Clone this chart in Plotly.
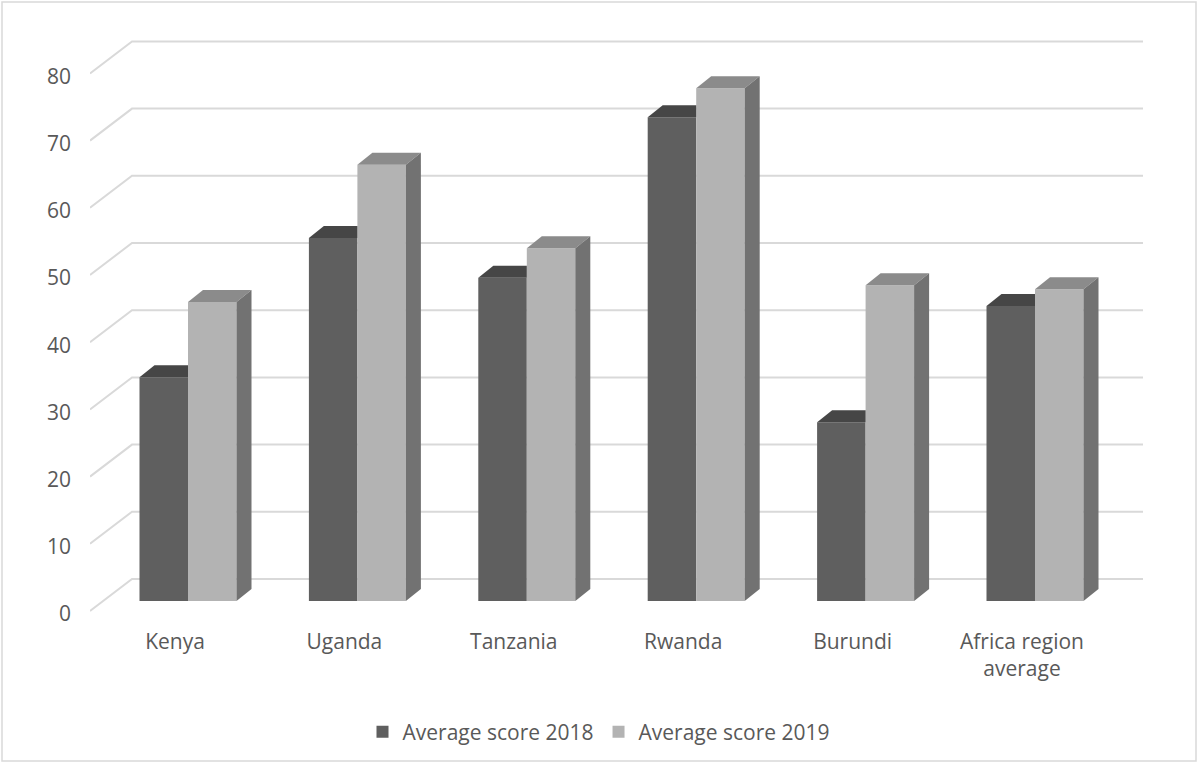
import plotly.graph_objects as go

# ---- data ----
categories = ["Kenya", "Uganda", "Tanzania", "Rwanda", "Burundi", "Africa region<br>average"]
score_2018 = [33.3, 54.0, 48.1, 72.0, 26.6, 43.9]
score_2019 = [44.5, 64.9, 52.5, 76.3, 47.0, 46.4]
series_names = ["Average score 2018", "Average score 2019"]
y_ticks = [0, 10, 20, 30, 40, 50, 60, 70, 80]

# ---- geometry / style ----
W, H = 1198, 764
L, R, T, B = 90, 1150, 30, 620
X0PX, PXX = 188.0, 169.4      # pixel of category 0, px per category
Y0PX, PXY = 601.0, 6.72       # pixel of value 0 on bar front plane, px per unit

def px_x(p):
    return (p - X0PX) / PXX

bar_w = 48.5 / PXX
dd_x = 15 / PXX        # bar depth
dd_y = 12 / PXY
front_dx, front_dy = -13 / PXX, -10 / PXY   # front plane relative to bar front
back_dy = 22 / PXY                          # back wall relative to bar front
label_dy = -3 / PXY
grid_front_x = px_x(L)
grid_back_x = px_x(132)
grid_end_x = px_x(1143)

C_DARK, C_DARK_TOP = "#5f5f5f", "#464646"
C_LIGHT, C_LIGHT_TOP, C_LIGHT_SIDE = "#b3b3b3", "#8b8b8b", "#727272"
GRID = "#d9d9d9"
TXT = "#595959"
FONT = "Open Sans"
FS = 21

fig = go.Figure()

xs_dark = [i - bar_w / 2 for i in range(len(categories))]
xs_light = [i + bar_w / 2 for i in range(len(categories))]

fig.add_trace(go.Bar(x=xs_dark, y=score_2018, width=bar_w, name=series_names[0],
                     marker=dict(color=C_DARK, line=dict(width=0))))
fig.add_trace(go.Bar(x=xs_light, y=score_2019, width=bar_w, name=series_names[1],
                     marker=dict(color=C_LIGHT, line=dict(width=0))))

# 3D faces
def poly(xs, ys, color):
    fig.add_trace(go.Scatter(x=xs + [xs[0]], y=ys + [ys[0]], mode="lines", fill="toself",
                             fillcolor=color, line=dict(width=0, color=color),
                             hoverinfo="skip", showlegend=False))

for i in range(len(categories)):
    v1, v2 = score_2018[i], score_2019[i]
    xl = i - bar_w
    # dark top face (clipped by light bar in front)
    poly([xl, i, i, xl + dd_x], [v1, v1, v1 + dd_y, v1 + dd_y], C_DARK_TOP)
    # light top face
    poly([i, i + bar_w, i + bar_w + dd_x, i + dd_x], [v2, v2, v2 + dd_y, v2 + dd_y], C_LIGHT_TOP)
    # light side face
    poly([i + bar_w, i + bar_w, i + bar_w + dd_x, i + bar_w + dd_x],
         [0, v2, v2 + dd_y, dd_y], C_LIGHT_SIDE)

# gridlines (front diagonal + back wall)
shapes = []
for v in y_ticks:
    yf = v + front_dy
    yb = v + back_dy
    shapes.append(dict(type="path", xref="x", yref="y", layer="below",
                       path=f"M{grid_front_x},{yf} L{grid_back_x},{yb} L{grid_end_x},{yb}",
                       line=dict(color=GRID, width=2)))

# outer border
shapes.append(dict(type="rect", xref="paper", yref="paper", layer="below",
                   x0=(2 - L) / (R - L), x1=(1196 - L) / (R - L),
                   y0=(B - 761) / (B - T), y1=(B - 2) / (B - T),
                   line=dict(color=GRID, width=1.5), fillcolor="rgba(0,0,0,0)"))

fig.update_layout(
    width=W, height=H,
    margin=dict(l=L, r=W - R, t=T, b=H - B),
    paper_bgcolor="white", plot_bgcolor="white",
    barmode="overlay",
    font=dict(family=FONT, size=FS, color=TXT),
    shapes=shapes,
    showlegend=True,
    legend=dict(orientation="h", x=(599 - L) / (R - L), xanchor="center",
                y=(B - 732) / (B - T), yanchor="middle",
                font=dict(family=FONT, size=FS, color=TXT), traceorder="normal",
                itemclick=False),
    xaxis=dict(range=[px_x(L), px_x(R)], tickmode="array",
               tickvals=[i + front_dx for i in range(len(categories))], ticktext=categories,
               showgrid=False, zeroline=False, showline=False, ticks="", ticklabelstandoff=7),
    yaxis=dict(range=[(Y0PX - B) / PXY, (Y0PX - T) / PXY], tickmode="array",
               tickvals=[v + front_dy + label_dy for v in y_ticks], ticktext=[str(v) for v in y_ticks],
               showgrid=False, zeroline=False, showline=False, ticks="", ticklabelstandoff=18),
)

fig.write_html("out.html")
